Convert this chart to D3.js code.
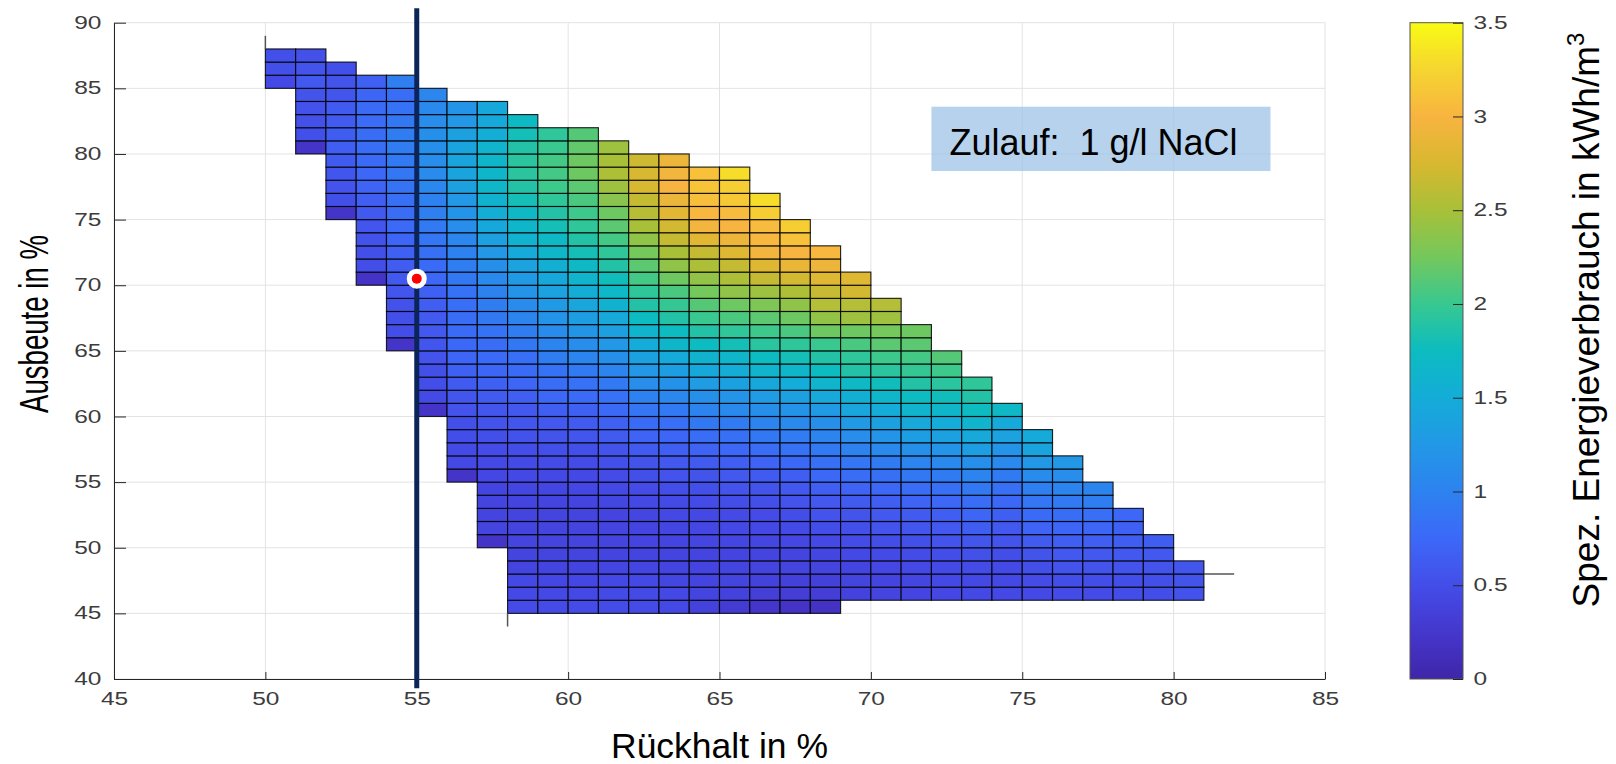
<!DOCTYPE html>
<head>
<meta charset="utf-8">
<script src="https://cdn.jsdelivr.net/npm/d3@7"></script>
<style>
body {
  margin: 0;
  background: #fff;
}
text {
  font-family: "Liberation Sans", Arial, sans-serif;
}
.axis .tick text {
  fill: #3c3c3c;
  font-size: 17.5px;
}
.axis path,
.axis line {
  stroke: #262626;
}
.grid line {
  stroke: #e3e3e3;
}
</style>
</head>
<body>

<div id="chart"></div>

<script>

// --- data ---
// left edge of each cell column (Rückhalt in %)
let rueckhalt = [50, 51, 52, 53, 54, 55, 56, 57, 58, 59, 60, 61, 62, 63, 64, 65,
                 66, 67, 68, 69, 70, 71, 72, 73, 74, 75, 76, 77, 78, 79, 80];

// lowest Ausbeute (%) of each column, cells go up in 1 % steps
let ausbeuteStart = [85, 80, 75, 70, 65, 60, 55, 50, 45, 45, 45, 45, 45, 45, 45, 45,
                     45, 45, 45, 46, 46, 46, 46, 46, 46, 46, 46, 46, 46, 46, 46];

// spez. Energieverbrauch (kWh/m3) per column, bottom -> top
let energie = [
  [0.46, 0.52, 0.52],
  [0.22, 0.52, 0.53, 0.54, 0.56, 0.6, 0.55, 0.53],
  [0.22, 0.52, 0.55, 0.58, 0.62, 0.66, 0.65, 0.63, 0.62, 0.57, 0.56, 0.52],
  [0.2, 0.5, 0.52, 0.54, 0.57, 0.61, 0.66, 0.7, 0.74, 0.77, 0.8, 0.8, 0.79, 0.77, 0.72, 0.68],
  [0.22, 0.5, 0.52, 0.54, 0.57, 0.6, 0.64, 0.68, 0.72, 0.76, 0.8, 0.83, 0.86, 0.89, 0.92, 0.95,
   0.95, 0.9, 0.85, 0.8, 0.97],
  [0.22, 0.47, 0.5, 0.52, 0.55, 0.57, 0.6, 0.62, 0.66, 0.68, 0.74, 0.78, 0.83, 0.88, 0.92, 0.97,
   1.0, 1.06, 1.1, 1.12, 1.15, 1.15, 1.12, 1.08, 1.05],
  [0.22, 0.45, 0.47, 0.5, 0.52, 0.55, 0.58, 0.62, 0.68, 0.72, 0.75, 0.78, 0.8, 0.82, 0.85, 0.9,
   0.95, 1.0, 1.05, 1.12, 1.2, 1.25, 1.35, 1.4, 1.4, 1.4, 1.35, 1.25, 1.2],
  [0.22, 0.4, 0.42, 0.42, 0.42, 0.44, 0.45, 0.48, 0.52, 0.55, 0.58, 0.62, 0.68, 0.72, 0.76, 0.8,
   0.85, 0.9, 0.95, 1.0, 1.08, 1.15, 1.25, 1.35, 1.45, 1.52, 1.58, 1.65, 1.65, 1.65, 1.62, 1.52,
   1.45, 1.45],
  [0.48, 0.46, 0.45, 0.42, 0.4, 0.4, 0.4, 0.41, 0.42, 0.43, 0.45, 0.47, 0.5, 0.54, 0.57, 0.6,
   0.66, 0.72, 0.78, 0.82, 0.9, 0.95, 1.02, 1.1, 1.2, 1.28, 1.38, 1.48, 1.58, 1.65, 1.7, 1.8,
   1.88, 1.92, 1.92, 1.88, 1.8, 1.72],
  [0.48, 0.46, 0.44, 0.42, 0.41, 0.4, 0.4, 0.41, 0.42, 0.43, 0.45, 0.48, 0.52, 0.56, 0.6, 0.66,
   0.74, 0.8, 0.85, 0.95, 1.02, 1.1, 1.2, 1.28, 1.38, 1.45, 1.55, 1.65, 1.7, 1.8, 1.88, 1.95,
   2.02, 2.05, 2.05, 2.0, 1.95],
  [0.48, 0.46, 0.44, 0.42, 0.41, 0.4, 0.4, 0.41, 0.42, 0.44, 0.46, 0.48, 0.52, 0.57, 0.62, 0.68,
   0.77, 0.84, 0.92, 1.02, 1.12, 1.22, 1.32, 1.42, 1.52, 1.62, 1.7, 1.8, 1.88, 1.95, 2.02, 2.08,
   2.15, 2.22, 2.22, 2.18, 2.12],
  [0.49, 0.47, 0.45, 0.43, 0.42, 0.41, 0.41, 0.42, 0.43, 0.45, 0.48, 0.52, 0.56, 0.62, 0.68, 0.77,
   0.84, 0.92, 1.02, 1.15, 1.25, 1.35, 1.46, 1.58, 1.68, 1.78, 1.88, 1.95, 2.05, 2.15, 2.22, 2.35,
   2.45, 2.52, 2.5, 2.45],
  [0.48, 0.47, 0.45, 0.43, 0.42, 0.42, 0.42, 0.43, 0.45, 0.48, 0.52, 0.56, 0.62, 0.7, 0.78, 0.88,
   1.0, 1.12, 1.25, 1.36, 1.5, 1.62, 1.75, 1.88, 1.95, 2.05, 2.15, 2.25, 2.38, 2.5, 2.58, 2.65,
   2.75, 2.75, 2.7],
  [0.45, 0.45, 0.43, 0.42, 0.42, 0.42, 0.43, 0.45, 0.47, 0.5, 0.55, 0.6, 0.66, 0.72, 0.82, 0.92,
   1.05, 1.18, 1.32, 1.48, 1.65, 1.75, 1.88, 1.98, 2.08, 2.22, 2.38, 2.5, 2.65, 2.72, 2.82, 2.9,
   3.0, 2.95, 2.9],
  [0.38, 0.42, 0.42, 0.42, 0.42, 0.43, 0.44, 0.46, 0.48, 0.52, 0.56, 0.62, 0.7, 0.8, 0.9, 1.02,
   1.15, 1.3, 1.45, 1.6, 1.75, 1.88, 2.0, 2.12, 2.25, 2.4, 2.52, 2.65, 2.82, 2.95, 3.02, 3.08,
   3.12, 3.1],
  [0.3, 0.38, 0.4, 0.41, 0.42, 0.43, 0.45, 0.47, 0.5, 0.55, 0.6, 0.66, 0.74, 0.83, 0.93, 1.08,
   1.2, 1.36, 1.52, 1.65, 1.8, 1.95, 2.08, 2.22, 2.38, 2.52, 2.65, 2.8, 2.92, 3.0, 3.05, 3.15,
   3.2, 3.3],
  [0.24, 0.34, 0.38, 0.4, 0.42, 0.43, 0.45, 0.48, 0.52, 0.56, 0.62, 0.7, 0.8, 0.9, 1.02, 1.15,
   1.3, 1.45, 1.62, 1.75, 1.92, 2.02, 2.15, 2.3, 2.45, 2.65, 2.8, 2.95, 3.02, 3.05, 3.2, 3.3],
  [0.2, 0.33, 0.37, 0.4, 0.42, 0.44, 0.47, 0.5, 0.55, 0.6, 0.66, 0.75, 0.84, 0.94, 1.08, 1.2,
   1.35, 1.5, 1.65, 1.8, 1.95, 2.08, 2.22, 2.38, 2.52, 2.72, 2.88, 3.0, 3.1, 3.2],
  [0.18, 0.33, 0.37, 0.4, 0.43, 0.46, 0.5, 0.55, 0.6, 0.66, 0.75, 0.83, 0.92, 1.02, 1.15, 1.28,
   1.46, 1.62, 1.75, 1.88, 2.0, 2.22, 2.4, 2.56, 2.66, 2.8, 2.92, 3.02],
  [0.38, 0.4, 0.42, 0.45, 0.48, 0.52, 0.56, 0.62, 0.7, 0.8, 0.88, 1.0, 1.12, 1.28, 1.42, 1.55,
   1.7, 1.88, 1.95, 2.08, 2.22, 2.45, 2.56, 2.72, 2.8],
  [0.4, 0.42, 0.44, 0.47, 0.5, 0.55, 0.6, 0.66, 0.74, 0.83, 0.93, 1.08, 1.2, 1.36, 1.5, 1.65,
   1.78, 1.92, 2.02, 2.15, 2.25, 2.45, 2.56],
  [0.42, 0.43, 0.45, 0.48, 0.52, 0.57, 0.63, 0.7, 0.8, 0.9, 1.02, 1.15, 1.32, 1.46, 1.62, 1.75,
   1.88, 1.98, 2.05, 2.15, 2.22],
  [0.44, 0.45, 0.47, 0.5, 0.55, 0.6, 0.66, 0.74, 0.83, 0.93, 1.08, 1.2, 1.36, 1.5, 1.65, 1.78,
   1.92, 2.02, 2.12],
  [0.45, 0.46, 0.49, 0.53, 0.58, 0.65, 0.72, 0.8, 0.9, 1.02, 1.15, 1.32, 1.46, 1.62, 1.75, 1.88,
   1.95],
  [0.45, 0.45, 0.47, 0.5, 0.55, 0.6, 0.67, 0.75, 0.83, 0.93, 1.08, 1.2, 1.38, 1.48, 1.7],
  [0.46, 0.48, 0.52, 0.56, 0.62, 0.7, 0.78, 0.88, 0.98, 1.1, 1.25, 1.4, 1.48],
  [0.48, 0.5, 0.55, 0.6, 0.66, 0.72, 0.8, 0.92, 1.02, 1.12, 1.25],
  [0.48, 0.5, 0.55, 0.6, 0.66, 0.72, 0.82, 0.96, 1.02],
  [0.5, 0.5, 0.55, 0.6, 0.65, 0.68, 0.74],
  [0.5, 0.52, 0.55, 0.6, 0.65],
  [0.54, 0.56, 0.58]
];

// loose surface edges sticking out of the grid [x1, y1, x2, y2]
let randKanten = [[50, 88, 50, 89], [58, 45, 58, 44], [81, 48, 82, 48]];

// marked operating point and the vertical line through it
let betriebspunkt = {x: 55, y: 70.5};
let linieY = [39.3, 91.1];

let xTicks = [45, 50, 55, 60, 65, 70, 75, 80, 85],
    yTicks = [40, 45, 50, 55, 60, 65, 70, 75, 80, 85, 90],
    cTicks = [0, 0.5, 1, 1.5, 2, 2.5, 3, 3.5];

// colour map (parula-like)
let cmapWerte = [0, 0.2, 0.45, 0.6, 0.75, 1.0, 1.25, 1.5, 1.75, 2.0, 2.25, 2.5, 2.75, 3.0, 3.25, 3.5];
let cmapFarben = ["#3e26a8", "#4433c6", "#4448e4", "#4258ee", "#3c68f8", "#2d82f0", "#2298e6",
                  "#14acd8", "#0cbcc0", "#38c890", "#74c85c", "#a8c038", "#d8b830", "#f8b440",
                  "#f5d530", "#f9fb14"];

// --- layout ---
let W = 1616, H = 764;
let plot = {left: 114, right: 1325, top: 22.7, bottom: 679};
let cbar = {left: 1410, right: 1463};
let stretch = "scale(1.4,1)"; // tick labels of the original are drawn wide

let svg = d3.select("#chart").append("svg")
    .attr("width", W)
    .attr("height", H);

let x = d3.scaleLinear().domain([45, 85]).range([plot.left, plot.right]),
    y = d3.scaleLinear().domain([40, 90]).range([plot.bottom, plot.top]),
    cy = d3.scaleLinear().domain([0, 3.5]).range([plot.bottom, plot.top]);

let color = d3.scaleLinear()
    .domain(cmapWerte)
    .range(cmapFarben)
    .clamp(true);

// grid
let grid = svg.append("g").attr("class", "grid");
grid.selectAll("line.gx").data(xTicks).enter().append("line")
    .attr("x1", d => x(d)).attr("x2", d => x(d))
    .attr("y1", y(40)).attr("y2", y(90));
grid.selectAll("line.gy").data(yTicks).enter().append("line")
    .attr("x1", x(45)).attr("x2", x(85))
    .attr("y1", d => y(d)).attr("y2", d => y(d));

// cells
let cells = [];
rueckhalt.forEach(function(r, i) {
  energie[i].forEach(function(v, k) {
    cells.push({x: r, y: ausbeuteStart[i] + k, value: v});
  });
});

svg.append("g").selectAll("rect")
    .data(cells)
  .enter().append("rect")
    .attr("x", d => x(d.x))
    .attr("y", d => y(d.y + 1))
    .attr("width", d => x(d.x + 1) - x(d.x))
    .attr("height", d => y(d.y) - y(d.y + 1))
    .attr("fill", d => color(d.value))
    .attr("stroke", "#000")
    .attr("stroke-opacity", 0.85)
    .attr("stroke-width", 1.15);

svg.append("g").selectAll("line")
    .data(randKanten)
  .enter().append("line")
    .attr("x1", d => x(d[0])).attr("y1", d => y(d[1]))
    .attr("x2", d => x(d[2])).attr("y2", d => y(d[3]))
    .attr("stroke", "#555")
    .attr("stroke-width", 1.5);

// axes
let yAxis = d3.axisLeft(y).tickValues(yTicks).tickSizeInner(-12).tickSizeOuter(0);
let xAxis = d3.axisBottom(x).tickValues(xTicks).tickSizeInner(-7).tickSizeOuter(0);

let gy = svg.append("g")
    .attr("class", "axis")
    .attr("transform", "translate(" + plot.left + ",0)")
    .call(yAxis);
gy.selectAll("text").attr("x", -9).attr("transform", stretch);

let gx = svg.append("g")
    .attr("class", "axis")
    .attr("transform", "translate(0," + plot.bottom + ")")
    .call(xAxis);
gx.selectAll("text").attr("y", 26.5).attr("dy", 0).attr("transform", stretch);

// vertical marker line and point
svg.append("line")
    .attr("x1", x(betriebspunkt.x)).attr("x2", x(betriebspunkt.x))
    .attr("y1", y(linieY[0])).attr("y2", y(linieY[1]))
    .attr("stroke", "#0b2559")
    .attr("stroke-width", 5);

svg.append("circle")
    .attr("cx", x(betriebspunkt.x)).attr("cy", y(betriebspunkt.y))
    .attr("r", 10)
    .attr("fill", "#fff");
svg.append("circle")
    .attr("cx", x(betriebspunkt.x)).attr("cy", y(betriebspunkt.y))
    .attr("r", 5)
    .attr("fill", "#f00");

// annotation box
svg.append("rect")
    .attr("x", x(72))
    .attr("y", y(83.6))
    .attr("width", x(83.2) - x(72))
    .attr("height", y(78.7) - y(83.6))
    .attr("fill", "#9dc3e6")
    .attr("fill-opacity", 0.75);

svg.append("text")
    .attr("x", x(72.6))
    .attr("y", y(79.9))
    .attr("font-size", 36)
    .attr("fill", "#000")
    .style("white-space", "pre")
    .attr("textLength", 288)
    .attr("lengthAdjust", "spacingAndGlyphs")
    .text("Zulauf:  1 g/l NaCl");

// axis titles
svg.append("text")
    .attr("text-anchor", "middle")
    .attr("x", (plot.left + plot.right) / 2)
    .attr("y", 758)
    .attr("font-size", 35)
    .attr("textLength", 217)
    .attr("lengthAdjust", "spacingAndGlyphs")
    .text("Rückhalt in %");

svg.append("text")
    .attr("text-anchor", "middle")
    .attr("transform", "translate(48,324) rotate(-90)")
    .attr("font-size", 40)
    .attr("textLength", 178)
    .attr("lengthAdjust", "spacingAndGlyphs")
    .text("Ausbeute in %");

// colour bar
let defs = svg.append("defs");
let grad = defs.append("linearGradient")
    .attr("id", "cbgrad")
    .attr("x1", 0).attr("y1", 1).attr("x2", 0).attr("y2", 0);
grad.selectAll("stop")
    .data(cmapWerte)
  .enter().append("stop")
    .attr("offset", d => d / 3.5)
    .attr("stop-color", d => color(d));

svg.append("rect")
    .attr("x", cbar.left)
    .attr("y", cy(3.5))
    .attr("width", cbar.right - cbar.left)
    .attr("height", cy(0) - cy(3.5))
    .attr("fill", "url(#cbgrad)")
    .attr("stroke", "#555")
    .attr("stroke-width", 1);

let cAxis = d3.axisRight(cy).tickValues(cTicks).tickSizeInner(-10).tickSizeOuter(0)
    .tickFormat(d => String(d));
let gc = svg.append("g")
    .attr("class", "axis")
    .attr("transform", "translate(" + cbar.right + ",0)")
    .call(cAxis);
gc.select(".domain").remove();
gc.selectAll("text").attr("x", 7.5).attr("transform", stretch);

let cLabel = svg.append("text")
    .attr("text-anchor", "middle")
    .attr("transform", "translate(1599,320) rotate(-90)")
    .attr("font-size", 37);
cLabel.append("tspan").text("Spez. Energieverbrauch in kWh/m");
cLabel.append("tspan")
    .attr("font-size", 24)
    .attr("dy", -15)
    .text("3");

</script>
</body>
